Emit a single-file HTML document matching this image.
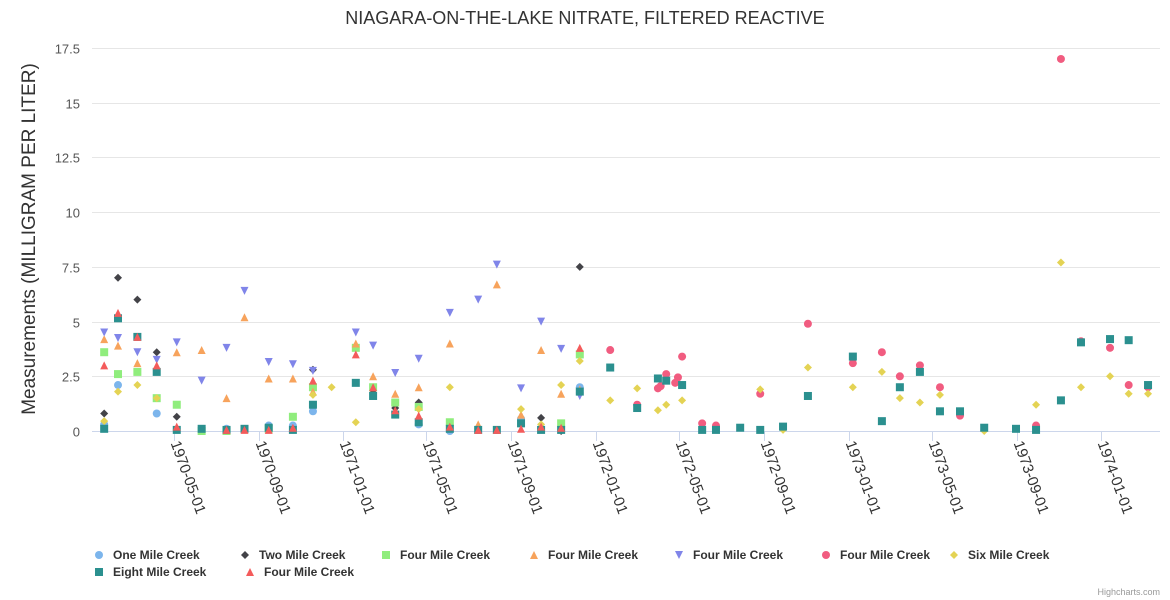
<!DOCTYPE html>
<html><head><meta charset="utf-8"><style>
body{margin:0;background:#fff;font-family:"Liberation Sans",sans-serif}
svg{display:block}
</style></head><body>
<svg id="c" width="1170" height="600" xmlns="http://www.w3.org/2000/svg"></svg>
<script>
const yTicks=[0,2.5,5,7.5,10,12.5,15,17.5];
const xTicks=["1970-05-01","1970-09-01","1971-01-01","1971-05-01","1971-09-01","1972-01-01","1972-05-01","1972-09-01","1973-01-01","1973-05-01","1973-09-01","1974-01-01"];
const seriesNames=["One Mile Creek","Two Mile Creek","Four Mile Creek","Four Mile Creek","Four Mile Creek","Four Mile Creek","Six Mile Creek","Eight Mile Creek","Four Mile Creek"];
const oneMile=[["1970-01-20",0.3],["1970-02-09",2.1],["1970-04-06",0.8],["1970-07-16",0.1],["1970-09-15",0.25],["1970-10-20",0.25],["1970-11-18",0.9],["1971-04-20",0.3],["1971-06-04",0],["1971-09-15",0.55],["1971-12-09",2.0]];
const twoMile=[["1970-01-20",0.8],["1970-02-09",7.0],["1970-03-09",6.0],["1970-04-06",3.6],["1970-05-05",0.65],["1970-11-18",2.8],["1971-02-13",1.85],["1971-03-17",1.05],["1971-04-20",1.3],["1971-10-14",0.6],["1971-11-12",0],["1971-12-09",7.5]];
const fourGreen=[["1970-01-20",3.6],["1970-02-09",2.6],["1970-03-09",2.7],["1970-04-06",1.5],["1970-05-05",1.2],["1970-06-10",0],["1970-07-16",0],["1970-09-15",0.1],["1970-10-20",0.65],["1970-11-18",2.0],["1971-01-19",3.8],["1971-02-13",2.0],["1971-03-17",1.3],["1971-04-20",1.1],["1971-06-04",0.4],["1971-11-12",0.35],["1971-12-09",3.5]];
const fourOrange=[["1970-01-20",4.2],["1970-02-09",3.9],["1970-03-09",3.1],["1970-05-05",3.6],["1970-06-10",3.7],["1970-07-16",1.5],["1970-08-11",5.2],["1970-09-15",2.4],["1970-10-20",2.4],["1970-11-18",1.8],["1971-01-19",4.0],["1971-02-13",2.5],["1971-03-17",1.7],["1971-04-20",2.0],["1971-06-04",4.0],["1971-07-15",0.3],["1971-08-11",6.7],["1971-09-15",0.75],["1971-10-14",3.7],["1971-11-12",1.7],["1971-12-09",1.9]];
const fourPurple=[["1970-01-20",4.5],["1970-02-09",4.25],["1970-03-09",3.6],["1970-04-06",3.25],["1970-05-05",4.05],["1970-06-10",2.3],["1970-07-16",3.8],["1970-08-11",6.4],["1970-09-15",3.15],["1970-10-20",3.05],["1970-11-18",2.75],["1971-01-19",4.5],["1971-02-13",3.9],["1971-03-17",2.65],["1971-04-20",3.3],["1971-06-04",5.4],["1971-07-15",6.0],["1971-08-11",7.6],["1971-09-15",1.95],["1971-10-14",5.0],["1971-11-12",3.75],["1971-12-09",1.6]];
const fourPink=[["1972-01-22",3.7],["1972-03-01",1.2],["1972-03-31",1.95],["1972-04-04",2.05],["1972-04-12",2.6],["1972-04-25",2.2],["1972-04-29",2.45],["1972-05-05",3.4],["1972-06-03",0.35],["1972-06-23",0.25],["1972-08-26",1.7],["1972-11-03",4.9],["1973-01-07",3.1],["1973-02-18",3.6],["1973-03-16",2.5],["1973-04-14",3.0],["1973-05-13",2.0],["1973-06-11",0.7],["1973-09-29",0.25],["1973-11-04",17.0],["1973-12-03",4.1],["1974-01-14",3.8],["1974-02-10",2.1],["1974-03-10",2.0]];
const sixMile=[["1970-01-20",0.45],["1970-02-09",1.8],["1970-03-09",2.1],["1970-04-06",1.5],["1970-11-18",1.65],["1970-12-15",2.0],["1971-01-19",0.4],["1971-04-20",1.0],["1971-06-04",2.0],["1971-09-15",1.0],["1971-10-14",0.3],["1971-11-12",2.1],["1971-12-09",3.2],["1972-01-22",1.4],["1972-03-01",1.95],["1972-03-31",0.95],["1972-04-12",1.2],["1972-05-05",1.4],["1972-08-26",1.9],["1972-09-28",0.05],["1972-11-03",2.9],["1973-01-07",2.0],["1973-02-18",2.7],["1973-03-16",1.5],["1973-04-14",1.3],["1973-05-13",1.65],["1973-07-16",0],["1973-09-29",1.2],["1973-11-04",7.7],["1973-12-03",2.0],["1974-01-14",2.5],["1974-02-10",1.7],["1974-03-10",1.7]];
const eightMile=[["1970-01-20",0.1],["1970-02-09",5.15],["1970-03-09",4.3],["1970-04-06",2.7],["1970-05-05",0.05],["1970-06-10",0.1],["1970-07-16",0.05],["1970-08-11",0.1],["1970-09-15",0.15],["1970-10-20",0.05],["1970-11-18",1.2],["1971-01-19",2.2],["1971-02-13",1.6],["1971-03-17",0.75],["1971-04-20",0.4],["1971-06-04",0.1],["1971-07-15",0.05],["1971-08-11",0.05],["1971-09-15",0.35],["1971-10-14",0.05],["1971-11-12",0.05],["1971-12-09",1.8],["1972-01-22",2.9],["1972-03-01",1.05],["1972-03-31",2.4],["1972-04-12",2.3],["1972-05-05",2.1],["1972-06-03",0.05],["1972-06-23",0.05],["1972-07-28",0.15],["1972-08-26",0.05],["1972-09-28",0.2],["1972-11-03",1.6],["1973-01-07",3.4],["1973-02-18",0.45],["1973-03-16",2.0],["1973-04-14",2.7],["1973-05-13",0.9],["1973-06-11",0.9],["1973-07-16",0.15],["1973-08-31",0.1],["1973-09-29",0.05],["1973-11-04",1.4],["1973-12-03",4.05],["1974-01-14",4.2],["1974-02-10",4.15],["1974-03-10",2.1]];
const fourRed=[["1970-01-20",3.0],["1970-02-09",5.4],["1970-03-09",4.3],["1970-04-06",3.0],["1970-05-05",0.2],["1970-07-16",0.05],["1970-08-11",0.05],["1970-09-15",0.05],["1970-10-20",0.15],["1970-11-18",2.3],["1971-01-19",3.5],["1971-02-13",2.0],["1971-03-17",0.95],["1971-04-20",0.7],["1971-06-04",0.2],["1971-07-15",0.05],["1971-08-11",0.05],["1971-09-15",0.1],["1971-10-14",0.2],["1971-11-12",0.15],["1971-12-09",3.8]];

const NS="http://www.w3.org/2000/svg";
const svg=document.getElementById('c');
const T0=Date.UTC(1970,4,1);
function xs(d){const p=d.split('-');const t=Date.UTC(+p[0],+p[1]-1,+p[2]);return 174+(t-T0)/86400000*0.6913;}
function ys(v){return 431-v*21.886;}
function el(tag,attrs,parent){const e=document.createElementNS(NS,tag);for(const k in attrs)e.setAttribute(k,attrs[k]);(parent||svg).appendChild(e);return e;}

let t=el('text',{x:585,y:24,'text-anchor':'middle','font-size':18,fill:'#333'});


t.textContent='NIAGARA-ON-THE-LAKE NITRATE, FILTERED REACTIVE';
t=el('text',{x:0,y:0,'text-anchor':'middle','font-size':19,fill:'#333',transform:'translate(35,239) rotate(-90)'});


t.textContent='Measurements (MILLIGRAM PER LITER)';

yTicks.forEach(v=>{
  const y=Math.round(ys(v))+0.5;
  if(v>0){const g=el('line',{x1:92,x2:1160,y1:y,y2:y,stroke:'#e6e6e6'});
  
  }
  const l=el('text',{x:80,y:y+5,'text-anchor':'end','font-size':13,fill:'#555'});
  
  
  l.textContent=String(v);
});
let ax=el('line',{x1:92,x2:1160,y1:431.5,y2:431.5,stroke:'#ccd6eb'});


xTicks.forEach(d=>{
  const x=Math.round(xs(d))+0.5;
  const k=el('line',{x1:x,x2:x,y1:431,y2:441,stroke:'#ccd6eb'});
  
  
  const l=el('text',{x:0,y:0,'font-size':15,fill:'#333',transform:`translate(${x-4},${443}) rotate(70)`});
  
  
  l.textContent=d;
});

const colors=['#7cb5ec','#434348','#90ed7d','#f7a35c','#8085e9','#f15c80','#e4d354','#2b908f','#f45b5b'];
const shapes=['circle','diamond','square','triangle','tri-down','circle','diamond','square','triangle'];
const allData=[oneMile,twoMile,fourGreen,fourOrange,fourPurple,fourPink,sixMile,eightMile,fourRed];
function marker(shape,x,y,c,p){
  let e;
  if(shape==='circle')e=el('circle',{cx:x,cy:y,r:4,fill:c},p);
  else if(shape==='square')e=el('rect',{x:x-4,y:y-4,width:8,height:8,fill:c},p);
  else if(shape==='diamond')e=el('path',{d:`M${x} ${y-4}L${x+4} ${y}L${x} ${y+4}L${x-4} ${y}Z`,fill:c},p);
  else if(shape==='triangle')e=el('path',{d:`M${x} ${y-4}L${x+4} ${y+4}L${x-4} ${y+4}Z`,fill:c},p);
  else e=el('path',{d:`M${x-4} ${y-4}L${x+4} ${y-4}L${x} ${y+4}Z`,fill:c},p);
  return e;
}
allData.forEach((data,i)=>{
  const g=el('g',{});
  
  
  data.forEach(([d,v])=>{
    const m=marker(shapes[i],xs(d),ys(v),colors[i],g);
    
    
  });
});

const legPos=[[99,555],[245,555],[386,555],[534,555],[679,555],[826,555],[954,555],[99,572],[250,572]];
seriesNames.forEach((n,i)=>{
  const g=el('g',{});
  
  
  const [x,y]=legPos[i];
  marker(shapes[i],x,y,colors[i],g);
  const l=el('text',{x:x+14,y:y+4,'font-size':12,'font-weight':'bold',fill:'#333'},g);
  l.textContent=n;
});
t=el('text',{x:1160,y:595,'text-anchor':'end','font-size':9,fill:'#999'});


t.textContent='Highcharts.com';
</script>
</body></html>
